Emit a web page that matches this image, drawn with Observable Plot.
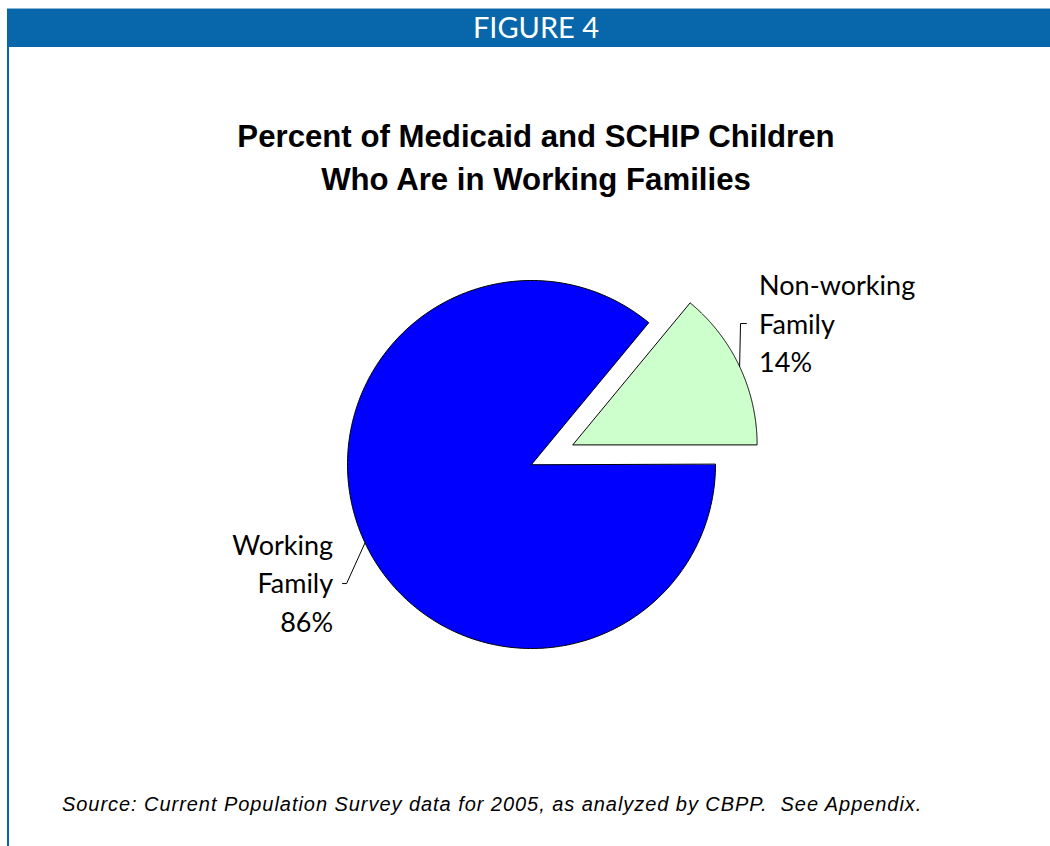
<!DOCTYPE html>
<html>
<head>
<meta charset="utf-8">
<script src="https://cdn.jsdelivr.net/npm/d3@7"></script>
<script src="https://cdn.jsdelivr.net/npm/@observablehq/plot@0.6"></script>
<style>
  html, body { margin: 0; padding: 0; background: #fff; }
  body { width: 1050px; height: 846px; position: relative; overflow: hidden; }
  #frame { position: absolute; left: 7px; top: 8px; width: 2px; height: 838px; background: #0767aa; }
  #header { position: absolute; left: 7px; top: 8px; width: 1043px; height: 39px; background: #0767aa; border-top: 1px solid #8bb6d6; box-sizing: border-box; }
  #header span { position: absolute; left: 0; width: 1058px; top: 0; text-align: center; color: #fff; font-family: Lato, "Open Sans", sans-serif; font-size: 29px; line-height: 36px; }
  #title { position: absolute; left: 36px; width: 1000px; top: 115px; text-align: center; font-family: "Liberation Sans", Arial, sans-serif; font-weight: bold; font-size: 31.2px; line-height: 43px; color: #000; }
  #chart { position: absolute; left: 0; top: 220px; }
  #source { position: absolute; left: 62px; top: 792px; font-family: "Liberation Sans", Arial, sans-serif; font-style: italic; font-size: 20px; letter-spacing: 0.95px; line-height: 24px; color: #000; white-space: nowrap; }
</style>
</head>
<body>
<div id="frame"></div>
<div id="header"><span>FIGURE 4</span></div>
<div id="title">Percent of Medicaid and SCHIP Children<br>Who Are in Working Families</div>
<div id="chart"></div>
<div id="source">Source: Current Population Survey data for 2005, as analyzed by CBPP.&nbsp; See Appendix.</div>
<script>
// ---- data ----
const categories = ["Non-working Family", "Working Family"];
const shares = [14, 86];
const labelLines = [["Non-working", "Family", "14%"], ["Working", "Family", "86%"]];

// ---- styles / layout ----
const colors = ["#CCFFCC", "#0000FF"];
const explode = {"Non-working Family": 0.25, "Working Family": 0};
const labelLayout = {
  "Non-working Family": {elbow: [1.136, 0.766], end: [1.168, 0.766], text: [1.237, 0.778], anchor: "start"},
  "Working Family": {elbow: [-1.005, -0.647], end: [-1.027, -0.647], text: [-1.078, -0.632], anchor: "end"}
};
const PX = 184;               // pixels per radius unit
const W = 1050, H = 520;
const cx = 531, cy = 244;     // pie centre inside the svg, px

// ---- geometry from data ----
const total = d3.sum(shares);
let acc = 0;
const slicePts = [], leaders = [], labels = [];
categories.forEach((cat, i) => {
  const a0 = acc / total * 2 * Math.PI;
  acc += shares[i];
  const a1 = acc / total * 2 * Math.PI;
  const am = (a0 + a1) / 2;
  const ox = explode[cat] * Math.cos(am), oy = explode[cat] * Math.sin(am);
  slicePts.push({category: cat, x: ox, y: oy});
  const n = 240;
  for (let k = 0; k <= n; k++) {
    const a = a0 + (a1 - a0) * k / n;
    slicePts.push({category: cat, x: ox + Math.cos(a), y: oy + Math.sin(a)});
  }
  const L = labelLayout[cat];
  leaders.push({category: cat, x: ox + Math.cos(am), y: oy + Math.sin(am)});
  leaders.push({category: cat, x: L.elbow[0], y: L.elbow[1]});
  leaders.push({category: cat, x: L.end[0], y: L.end[1]});
  labels.push({category: cat, x: L.text[0], y: L.text[1], text: labelLines[i].join("\n"), anchor: L.anchor});
});

const chart = Plot.plot({
  width: W, height: H,
  margin: 0,
  x: {domain: [-cx / PX, (W - cx) / PX], axis: null},
  y: {domain: [-(H - cy) / PX, cy / PX], axis: null},
  color: {domain: categories, range: colors},
  marks: [
    Plot.line(slicePts, {x: "x", y: "y", z: "category", fill: "category", stroke: "black", strokeWidth: 1, curve: "linear-closed"}),
    Plot.line(leaders, {x: "x", y: "y", z: "category", stroke: "black", strokeWidth: 1}),
    Plot.text(labels, {filter: d => d.anchor === "start", x: "x", y: "y", text: "text", textAnchor: "start", lineAnchor: "middle", lineHeight: 1.43, fontSize: 27, fontFamily: "Lato, 'Open Sans', sans-serif", fill: "black"}),
    Plot.text(labels, {filter: d => d.anchor === "end", x: "x", y: "y", text: "text", textAnchor: "end", lineAnchor: "middle", lineHeight: 1.43, fontSize: 27, fontFamily: "Lato, 'Open Sans', sans-serif", fill: "black"})
  ]
});
document.getElementById("chart").appendChild(chart);
</script>
</body>
</html>
